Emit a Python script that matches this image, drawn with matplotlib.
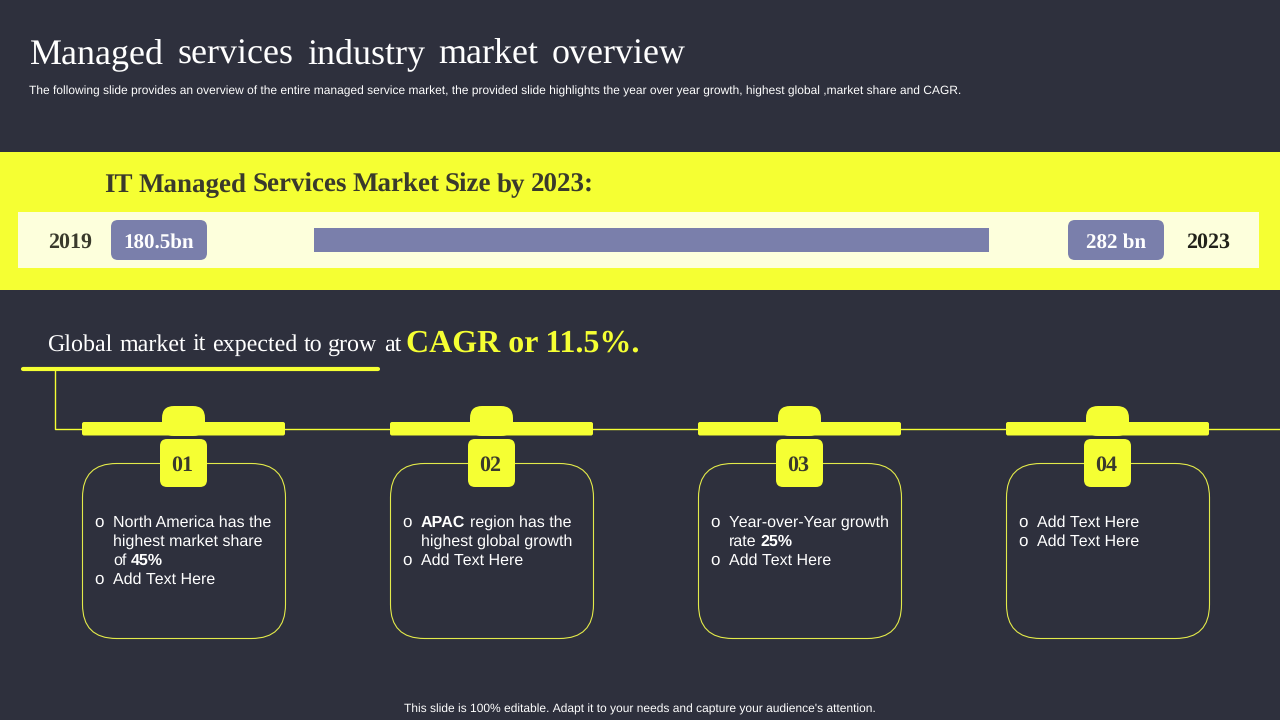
import matplotlib
matplotlib.use('Agg')
import matplotlib.pyplot as plt
from matplotlib.patches import FancyBboxPatch, Rectangle

plt.rcParams['text.hinting'] = 'no_hinting'
plt.rcParams['text.hinting_factor'] = 1

BG = '#2e303d'
YELLOW = '#f5ff33'
PALE = '#fdffdc'
BLUE = '#7a7fab'
DARK = '#3a3a2c'
SERIF = 'Liberation Serif'
SANS = 'Liberation Sans'

title = 'Managed services industry market overview'
subtitle = ('The following slide provides an overview of the entire managed service market, '
            'the provided slide highlights the year over year growth, highest global ,market share and CAGR.')
band_title = 'IT Managed Services Market Size by 2023:'
years = ['2019', '2023']
sizes = ['180.5bn', '282 bn']
cagr_lead = 'Global market it expected to grow at'
cagr_value = 'CAGR or 11.5%.'
footer = "This slide is 100% editable. Adapt it to your needs and capture your audience's attention."
numbers = ['01', '02', '03', '04']
# each bullet is a list of lines, each line a list of (text, bold) runs
card_text = [
    [[[('North America has the', False)], [('highest market share', False)], [('of ', False), ('45%', True)]],
     [[('Add Text Here', False)]]],
    [[[('APAC', True), (' region has the', False)], [('highest global growth', False)]],
     [[('Add Text Here', False)]]],
    [[[('Year-over-Year growth', False)], [('rate ', False), ('25%', True)]],
     [[('Add Text Here', False)]]],
    [[[('Add Text Here', False)]],
     [[('Add Text Here', False)]]],
]

fig = plt.figure(figsize=(12.8, 7.2), dpi=100, facecolor=BG)
ax = fig.add_axes([0, 0, 1, 1])
ax.set_xlim(0, 1280)
ax.set_ylim(720, 0)
ax.axis('off')
rend = fig.canvas.get_renderer()


def rbox(x, y, w, h, r, fc, ec='none', lw=0, z=2):
    p = FancyBboxPatch((x + r, y + r), w - 2 * r, h - 2 * r, boxstyle='round,pad=%g,rounding_size=%g' % (r, r),
                       fc=fc, ec=ec, lw=lw, zorder=z)
    ax.add_patch(p)


def runs(x, y, parts, size, family=SANS, color='white'):
    # draws text pieces one after the other on a shared baseline
    for s, bold in parts:
        w_ = 'bold' if bold else 'normal'
        core = s.strip()
        lead = len(s) - len(s.lstrip())
        trail = len(s) - len(s.rstrip())
        gap = size * 100 / 72 * 0.278
        x += lead * gap
        t = ax.text(x, y, core, fontsize=size, family=family, color=color, weight=w_,
                    va='baseline', ha='left', zorder=5)
        x += t.get_window_extent(rend).width + trail * gap
    return x


def spaced(x, y, s, size, gap, family=SERIF, color='white', weight='normal'):
    # slide titles have wider word gaps than the font gives
    for word in s.split(' '):
        t = ax.text(x, y, word, fontsize=size, family=family, color=color, weight=weight, va='baseline', zorder=5)
        x += t.get_window_extent(rend).width + gap


spaced(30, 64, title, 26, 13.5)
ax.text(29, 95, subtitle, fontsize=8.62, family=SANS, color='white', va='baseline')
ax.text(640, 712.5, footer, fontsize=8.8, family=SANS, color='white', ha='center', va='baseline')

# yellow band
ax.add_patch(Rectangle((0, 152), 1280, 138, fc=YELLOW, ec='none', zorder=1))
ax.add_patch(Rectangle((18, 212), 1241, 56, fc=PALE, ec='none', zorder=2))
spaced(104.5, 192, band_title, 19.15, 5.6, color=DARK, weight='bold')

ax.barh([240], [675], left=314, height=24, color=BLUE, zorder=3)

ax.text(70, 247.5, years[0], fontsize=16, family=SERIF, weight='bold', color=DARK, ha='center', va='baseline', zorder=5)
ax.text(1208, 247.5, years[1], fontsize=16, family=SERIF, weight='bold', color='#22221a', ha='center', va='baseline', zorder=5)
for bx, label in zip([111, 1068], sizes):
    rbox(bx, 220, 96, 40, 7, BLUE, z=3)
    ax.text(bx + 48, 247.5, label, fontsize=15.2, family=SERIF, weight='bold', color='white', ha='center',
            va='baseline', zorder=5)

# growth line
spaced(47.5, 351, cagr_lead, 17.3, 6.3)
ax.text(406, 352, cagr_value, fontsize=23, family=SERIF, weight='bold', color=YELLOW, va='baseline', zorder=5)
ax.plot([23, 378], [368.5, 368.5], color=YELLOW, lw=3, solid_capstyle='round', zorder=3)

# connector
ax.plot([55, 55, 1280], [370, 429, 429], color=YELLOW, lw=1, zorder=1)

for i, (num, bullets) in enumerate(zip(numbers, card_text)):
    x0 = 82 + i * 308
    cx = x0 + 101.5
    # tab on the bar
    rbox(x0 + 80, 406, 43, 30, 12, YELLOW, z=3)
    rbox(x0, 422, 203, 13.5, 2, YELLOW, z=3)
    # card outline
    rbox(x0 + 0.5, 463.5, 203, 175, 34, 'none', ec='#e3ea4a', lw=0.8, z=2)
    # number badge
    rbox(cx - 23.5, 439, 47, 48, 7, YELLOW, z=4)
    ax.text(cx - 1, 470.5, num, fontsize=15.5, family=SERIF, weight='bold', color=DARK, ha='center', va='baseline', zorder=5)
    y = 526.5
    for lines in bullets:
        ax.text(x0 + 17, y + 0.8, 'o', fontsize=12, family=SANS, color='white', ha='center', va='baseline', zorder=5)
        for parts in lines:
            runs(x0 + 31, y, parts, 11.2, SANS, 'white')
            y += 19

fig.savefig('out.png', dpi=100, facecolor=BG)
